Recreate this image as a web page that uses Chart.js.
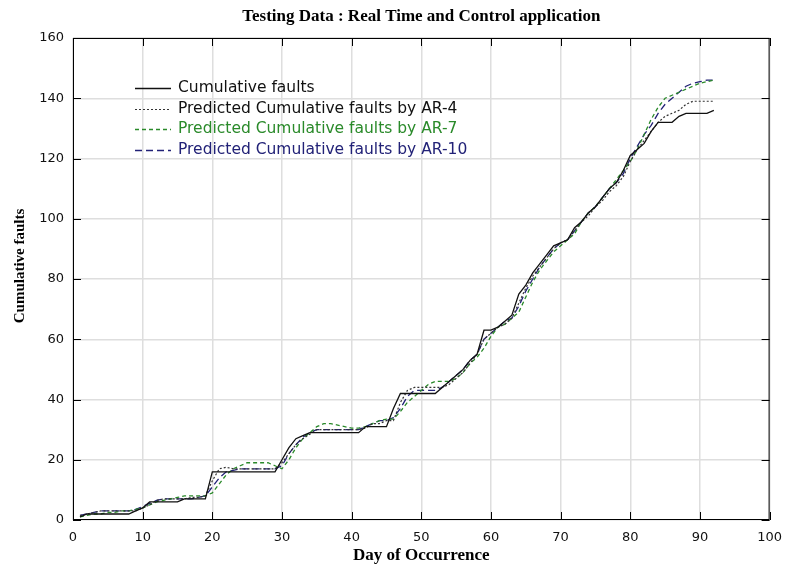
<!DOCTYPE html>
<html>
<head>
<meta charset="utf-8">
<script src="https://cdn.jsdelivr.net/npm/chart.js@4.4.1/dist/chart.umd.min.js"></script>
<style>
  html, body { margin: 0; padding: 0; background: #fff; }
  #wrap { width: 792px; height: 564px; position: relative; }
</style>
</head>
<body>
<div id="wrap"><canvas id="c" width="792" height="564"></canvas></div>
<script>
// Day of occurrence (x) for each observation
const days = [
  1, 2, 3, 4, 5, 6, 7, 8, 9, 10,
  11, 12, 13, 14, 15, 16, 17, 18, 19, 20,
  21, 22, 23, 24, 25, 26, 27, 28, 29, 30,
  31, 32, 33, 34, 35, 36, 37, 38, 39, 40,
  41, 42, 43, 44, 45, 46, 47, 48, 49, 50,
  51, 52, 53, 54, 55, 56, 57, 58, 59, 60,
  61, 62, 63, 64, 65, 66, 67, 68, 69, 70,
  71, 72, 73, 74, 75, 76, 77, 78, 79, 80,
  81, 82, 83, 84, 85, 86, 87, 88, 89, 90,
  91, 92
];

// Observed cumulative faults
const cumulativeFaults = [
  1, 2, 2, 2, 2, 2, 2, 2, 3, 4,
  6, 6, 6, 6, 6, 7, 7, 7, 7, 16,
  16, 16, 16, 16, 16, 16, 16, 16, 16, 20,
  24, 27, 28, 29, 29, 29, 29, 29, 29, 29,
  29, 31, 31, 31, 31, 37, 42, 42, 42, 42,
  42, 42, 44, 46, 48, 50, 53, 55, 63, 63,
  64, 66, 68, 75, 78, 82, 85, 88, 91, 92,
  93, 97, 99, 102, 104, 107, 110, 112, 116, 121,
  123, 125, 129, 132, 132, 132, 134, 135, 135, 135,
  135, 136
];

// Predictions from the AR-4 model
const predictedAR4 = [
  1.5, 2, 2.5, 3, 3, 3, 3, 3, 3, 4,
  5, 6.5, 7, 7, 7, 7, 7.5, 7.5, 8, 13,
  17, 17.5, 17, 17, 17, 17, 17, 17, 17, 19,
  22, 25, 27, 28.5, 30, 30, 30, 30, 30, 30,
  30, 30.5, 32, 32, 33, 33, 39, 43, 44, 44,
  44, 44, 44, 45, 47, 49, 52, 55, 60, 62,
  64, 65, 67, 72, 77, 81, 84, 87, 90, 92,
  93, 96, 99, 101, 104, 106, 109, 111, 114, 119,
  123, 126, 129, 132, 134, 135, 136, 138, 139, 139,
  139, 139
];

// Predictions from the AR-7 model
const predictedAR7 = [
  1, 1.5, 2, 2, 2.5, 2.5, 3, 3, 3.5, 4,
  5, 6, 6.5, 7, 7.5, 8, 8, 8, 8, 9,
  12, 15, 17, 18, 19, 19, 19, 19, 18, 17,
  20, 24, 27, 29, 31, 32, 32, 31.5, 31, 30.5,
  30.5, 31, 32, 33, 33.5, 33.5, 36, 39, 41, 43,
  45, 46, 46, 46, 47, 49, 52, 54, 57, 61,
  64, 65, 67, 69, 74, 79, 83, 86, 89, 91,
  93, 95, 99, 102, 104, 107, 110, 113, 116, 119,
  123, 128, 133, 137, 140, 141, 142, 143, 144, 145,
  145.5, 146
];

// Predictions from the AR-10 model
const predictedAR10 = [
  1.5, 2, 2.5, 3, 3, 3, 3, 3, 3.5, 4.5,
  5.5, 6.5, 7, 7, 7, 7, 7, 7.5, 8, 11,
  14, 16, 16.5, 17, 17, 17, 17, 17, 17, 18,
  22, 25, 27.5, 29, 30, 30, 30, 30, 30, 30,
  30, 31, 32, 33, 33, 34, 37, 41, 43, 43,
  43, 43, 44, 46, 48, 50, 53, 55, 60, 62,
  64, 66, 67, 71, 76, 80, 84, 87, 90, 92,
  93, 96, 99, 102, 104, 107, 110, 112, 115, 120,
  124, 128, 131, 135, 138, 140, 142, 144, 145, 145.5,
  146, 146
];

const seriesLabels = [
  'Cumulative faults',
  'Predicted Cumulative faults by AR-4',
  'Predicted Cumulative faults by AR-7',
  'Predicted Cumulative faults by AR-10'
];

const chartTitle = 'Testing Data : Real Time and Control application';
const xTitle = 'Day of Occurrence';
const yTitle = 'Cumulative faults';

const GREEN = '#2a8a2a';
const NAVY = '#222277';

function pairs(values) {
  return days.map((d, i) => ({ x: d, y: values[i] }));
}

// Frame with inward ticks on all four sides, titles and the in-plot legend
const decorations = {
  id: 'decorations',
  afterDraw(chart) {
    const { ctx, chartArea: a, scales } = chart;
    const xs = scales.x, ys = scales.y;
    ctx.save();

    // frame
    ctx.strokeStyle = '#000';
    ctx.lineWidth = 1;
    ctx.strokeRect(a.left + 0.5, a.top + 0.5, a.right - a.left - 1, a.bottom - a.top - 1);

    // inward ticks
    const T = 8;
    ctx.beginPath();
    xs.ticks.forEach(t => {
      const px = Math.round(xs.getPixelForValue(t.value)) + 0.5;
      ctx.moveTo(px, a.bottom); ctx.lineTo(px, a.bottom - T);
      ctx.moveTo(px, a.top); ctx.lineTo(px, a.top + T);
    });
    ys.ticks.forEach(t => {
      const py = Math.round(ys.getPixelForValue(t.value)) + 0.5;
      ctx.moveTo(a.left, py); ctx.lineTo(a.left + T, py);
      ctx.moveTo(a.right, py); ctx.lineTo(a.right - T, py);
    });
    ctx.stroke();

    // titles
    ctx.fillStyle = '#000';
    ctx.textAlign = 'center';
    ctx.textBaseline = 'middle';
    ctx.font = 'bold 17px "Liberation Serif", "Times New Roman", serif';
    ctx.fillText(chartTitle, (a.left + a.right) / 2, 17);
    ctx.fillText(xTitle, (a.left + a.right) / 2, 556);
    ctx.font = 'bold 15px "Liberation Serif", "Times New Roman", serif';
    ctx.save();
    ctx.translate(20, 266);
    ctx.rotate(-Math.PI / 2);
    ctx.fillText(yTitle, 0, 0);
    ctx.restore();

    // legend
    ctx.font = '15.5px "DejaVu Sans", sans-serif';
    ctx.textAlign = 'left';
    chart.data.datasets.forEach((ds, i) => {
      const ly = 88 + i * 20.7;
      ctx.save();
      ctx.strokeStyle = ds.borderColor;
      ctx.lineWidth = ds.borderWidth;
      ctx.setLineDash(ds.borderDash || []);
      ctx.beginPath();
      ctx.moveTo(135, Math.round(ly) + 0.5);
      ctx.lineTo(171, Math.round(ly) + 0.5);
      ctx.stroke();
      ctx.restore();
      ctx.fillStyle = ds.legendText;
      ctx.fillText(ds.label, 178, ly);
    });

    ctx.restore();
  }
};

new Chart(document.getElementById('c'), {
  type: 'line',
  data: {
    datasets: [
      {
        label: seriesLabels[0], data: pairs(cumulativeFaults),
        borderColor: '#111', borderWidth: 1.3, borderDash: [], legendText: '#111'
      },
      {
        label: seriesLabels[1], data: pairs(predictedAR4),
        borderColor: '#333', borderWidth: 1.2, borderDash: [2, 2], legendText: '#111'
      },
      {
        label: seriesLabels[2], data: pairs(predictedAR7),
        borderColor: GREEN, borderWidth: 1.3, borderDash: [4, 3], legendText: GREEN
      },
      {
        label: seriesLabels[3], data: pairs(predictedAR10),
        borderColor: NAVY, borderWidth: 1.3, borderDash: [7, 4], legendText: NAVY
      }
    ]
  },
  options: {
    responsive: false,
    animation: false,
    events: [],
    layout: { padding: { left: 0, right: 19, top: 38, bottom: 0 } },
    elements: { point: { radius: 0 }, line: { tension: 0, fill: false } },
    plugins: { legend: { display: false }, title: { display: false }, tooltip: { enabled: false } },
    scales: {
      x: {
        type: 'linear', min: 0, max: 100,
        ticks: { stepSize: 10, padding: 10, color: '#111', font: { family: 'DejaVu Sans', size: 13 } },
        grid: { color: '#dedede', lineWidth: 1.5, drawTicks: false },
        border: { display: false },
        afterFit(s) { s.height = 44; }
      },
      y: {
        type: 'linear', min: 0, max: 160,
        ticks: { stepSize: 20, padding: 9, color: '#111', font: { family: 'DejaVu Sans', size: 13 } },
        grid: { color: '#dedede', lineWidth: 1.5, drawTicks: false },
        border: { display: false },
        afterFit(s) { s.width = 73; }
      }
    }
  },
  plugins: [decorations]
});
</script>
</body>
</html>
